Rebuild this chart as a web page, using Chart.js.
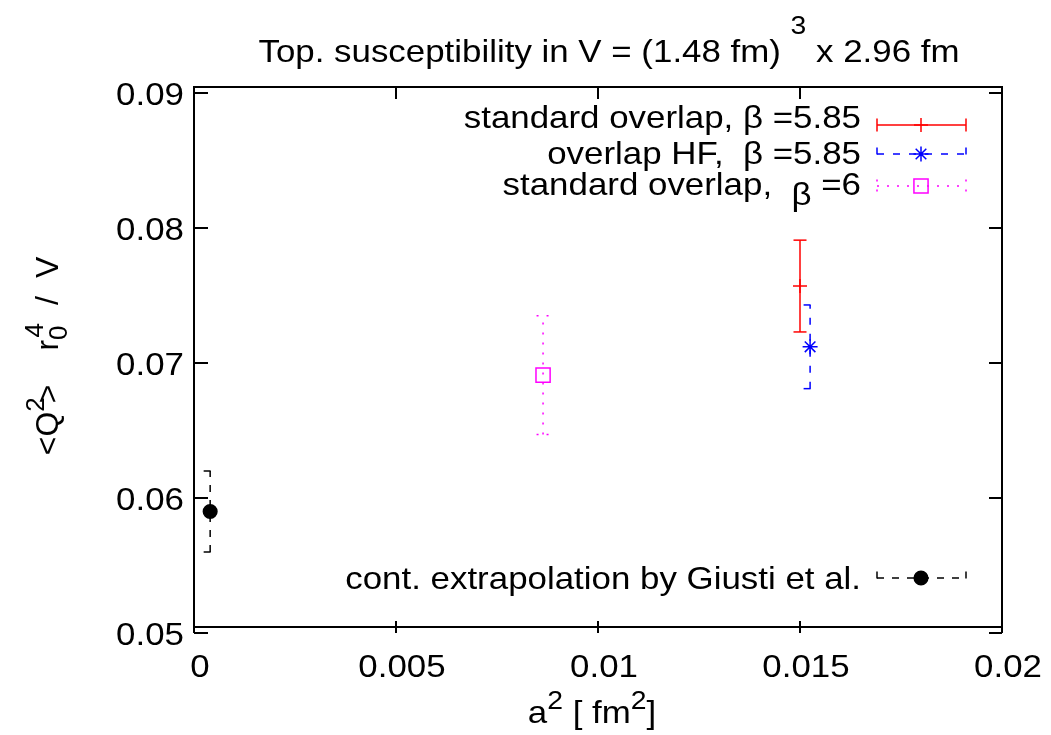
<!DOCTYPE html>
<html>
<head>
<meta charset="utf-8">
<script src="https://cdn.jsdelivr.net/npm/chart.js@4.4.0/dist/chart.umd.min.js"></script>
<style>
  html, body { margin: 0; padding: 0; background: #fff; }
</style>
</head>
<body>
<canvas id="chart" width="1051" height="735"></canvas>
<script>
// axis ticks
const xTicks = [0, 0.005, 0.01, 0.015, 0.02];
const xTickLabels = ['0', '0.005', '0.01', '0.015', '0.02'];
const yTicks = [0.05, 0.06, 0.07, 0.08, 0.09];
const yTickLabels = ['0.05', '0.06', '0.07', '0.08', '0.09'];

// series (a^2, value, error)
const stdX = [0.015];
const stdY = [0.0757];
const stdErr = [0.0034];

const hfX = [0.01525];
const hfY = [0.0712];
const hfErr = [0.0031];

const std6X = [0.00864];
const std6Y = [0.0691];
const std6Err = [0.0044];

const giustiX = [0.0004];
const giustiY = [0.0590];
const giustiErr = [0.0030];

const FONT = '"Liberation Sans", Arial, Helvetica, sans-serif';
const FS = 32;
const SX = 1.09;   // text looks a bit wider than plain Arial

function toPoints(xs, ys) {
  return xs.map((x, i) => ({ x: x, y: ys[i] }));
}

// parts: {t, s (size factor), dy, back (px pulled back), gap (extra px)}
function partWidth(ctx, p, sx) {
  ctx.font = Math.round(FS * (p.s || 1)) + 'px ' + FONT;
  return ctx.measureText(p.t || '').width * sx - (p.back || 0) + (p.gap || 0);
}
function drawRich(ctx, parts, x, y, align, sx) {
  sx = sx || SX;
  let w = 0;
  parts.forEach(p => { w += partWidth(ctx, p, sx); });
  let cx = align === 'right' ? x - w : align === 'center' ? x - w / 2 : x;
  ctx.textBaseline = 'alphabetic';
  ctx.textAlign = 'left';
  parts.forEach(p => {
    ctx.font = Math.round(FS * (p.s || 1)) + 'px ' + FONT;
    if (p.t) {
      ctx.save();
      ctx.translate(cx, y + (p.dy || 0));
      ctx.scale(sx, 1);
      ctx.fillText(p.t, 0, 0);
      ctx.restore();
    }
    cx += partWidth(ctx, p, sx);
  });
}

const series = [
  { xs: stdX, ys: stdY, err: stdErr, color: '#ff0000', dash: [], style: 'cross', r: 7, fill: false },
  { xs: hfX, ys: hfY, err: hfErr, color: '#0000ff', dash: [7, 9], style: 'star', r: 7.5, fill: false },
  { xs: std6X, ys: std6Y, err: std6Err, color: '#ff00ff', dash: [2, 8], style: 'rect', r: 10, fill: false },
  { xs: giustiX, ys: giustiY, err: giustiErr, color: '#000000', dash: [7, 8], style: 'circle', r: 6.8, fill: true }
];

const legendRows = [
  { y: 125, ty: 128, parts: [{ t: 'standard overlap, ' }, { t: 'β' }, { t: ' =5.85' }] },
  { y: 154, ty: 164, parts: [{ t: 'overlap HF,  ' }, { t: 'β' }, { t: ' =5.85' }] },
  { y: 186, ty: 195, parts: [{ t: 'standard overlap,  ' }, { t: 'β', dy: 10 }, { t: ' =6' }] },
  { y: 578, ty: 589, parts: [{ t: 'cont. extrapolation by Giusti et al.' }] }
];

function vline(ctx, x, y1, y2, dash) {
  ctx.setLineDash(dash);
  ctx.beginPath();
  ctx.moveTo(x, y1);
  ctx.lineTo(x, y2);
  ctx.stroke();
}
function hline(ctx, x1, x2, y, dash) {
  ctx.setLineDash(dash);
  ctx.beginPath();
  ctx.moveTo(x1, y);
  ctx.lineTo(x2, y);
  ctx.stroke();
}

const errorBars = {
  id: 'errorBars',
  beforeDatasetsDraw(chart) {
    const ctx = chart.ctx;
    const xs = chart.scales.x, ys = chart.scales.y;
    ctx.save();
    ctx.lineWidth = 1.5;
    series.forEach(s => {
      ctx.strokeStyle = s.color;
      s.xs.forEach((xv, i) => {
        const px = xs.getPixelForValue(xv);
        const lo = ys.getPixelForValue(s.ys[i] - s.err[i]);
        const hi = ys.getPixelForValue(s.ys[i] + s.err[i]);
        vline(ctx, px, lo, hi, s.dash);
        hline(ctx, px - 6.5, px + 6.5, lo, s.dash);
        hline(ctx, px - 6.5, px + 6.5, hi, s.dash);
      });
    });
    ctx.restore();
  }
};

const frame = {
  id: 'frame',
  afterDraw(chart) {
    const ctx = chart.ctx;
    const a = chart.chartArea;
    const xs = chart.scales.x, ys = chart.scales.y;
    ctx.save();
    ctx.fillStyle = '#000';
    ctx.strokeStyle = '#000';

    // border
    ctx.lineWidth = 2;
    ctx.setLineDash([]);
    ctx.strokeRect(a.left, a.top, a.right - a.left, a.bottom - a.top);

    // ticks (gnuplot places them a few px off the frame)
    yTicks.forEach((v, i) => {
      const py = ys.getPixelForValue(v);
      hline(ctx, a.left, a.left + 14, py, []);
      hline(ctx, a.right - 13, a.right, py, []);
      drawRich(ctx, [{ t: yTickLabels[i] }], 184, py + 12, 'right');
    });
    const bottom = ys.getPixelForValue(0.05);
    xTicks.forEach((v, i) => {
      const px = xs.getPixelForValue(v);
      vline(ctx, px, bottom, bottom - 12, []);
      vline(ctx, px, a.top, a.top + 12, []);
      drawRich(ctx, [{ t: xTickLabels[i] }], px + 6, 677, 'center');
    });

    // title
    drawRich(ctx, [
      { t: 'Top. susceptibility in V = (1.48 fm) ' },
      { t: '3', dy: -28, s: 0.8 },
      { t: ' x 2.96 fm' }
    ], 609, 62, 'center');

    // x label
    drawRich(ctx, [
      { t: 'a' }, { t: '2', dy: -14, s: 0.8 }, { t: ' [ fm' }, { t: '2', dy: -14, s: 0.8 }, { t: ']' }
    ], 592, 723, 'center');

    // y label
    ctx.save();
    ctx.translate(58, 356);
    ctx.rotate(-Math.PI / 2);
    drawRich(ctx, [
      { t: '<Q' }, { t: '2', dy: -14, s: 0.8, back: 6 }, { t: '>' }, { gap: 34 }, { t: 'r' },
      { t: '0', dy: 9, s: 0.8, back: 12 }, { t: '4', dy: -15, s: 0.8 }, { gap: 18 }, { t: '/' }, { gap: 18 }, { t: 'V' }
    ], 0, 0, 'center', 1.0);
    ctx.restore();

    // legend
    const x1 = 877, x2 = 966, xm = 921;
    legendRows.forEach((row, k) => {
      const s = series[k];
      ctx.fillStyle = '#000';
      drawRich(ctx, row.parts, 861, row.ty, 'right');
      ctx.strokeStyle = s.color;
      ctx.lineWidth = 1.5;
      hline(ctx, x1, x2, row.y, s.dash);
      vline(ctx, x1, row.y - 6.5, row.y + 6.5, s.dash);
      vline(ctx, x2, row.y - 6.5, row.y + 6.5, s.dash);
      ctx.setLineDash([]);
      ctx.fillStyle = s.fill ? s.color : 'rgba(0,0,0,0)';
      Chart.helpers.drawPoint(ctx, {
        pointStyle: s.style, radius: s.r, rotation: 0, borderWidth: 1.5
      }, xm, row.y);
    });
    ctx.restore();
  }
};

const datasets = series.map(s => ({
  data: toPoints(s.xs, s.ys),
  pointStyle: s.style,
  pointRadius: s.r,
  pointBorderWidth: 1.5,
  pointBorderColor: s.color,
  pointBackgroundColor: s.fill ? s.color : 'rgba(0,0,0,0)',
  showLine: false
}));

new Chart(document.getElementById('chart'), {
  type: 'scatter',
  data: { datasets },
  options: {
    responsive: false,
    animation: false,
    devicePixelRatio: 1,
    layout: { padding: { left: 194, right: 49, top: 87, bottom: 108 } },
    plugins: { legend: { display: false }, tooltip: { enabled: false } },
    scales: {
      x: { type: 'linear', display: false, min: 0, max: 0.02 },
      y: { type: 'linear', display: false, min: 0.05 + 6 / 13500, max: 0.09 + 6 / 13500 }
    }
  },
  plugins: [errorBars, frame]
});
</script>
</body>
</html>
